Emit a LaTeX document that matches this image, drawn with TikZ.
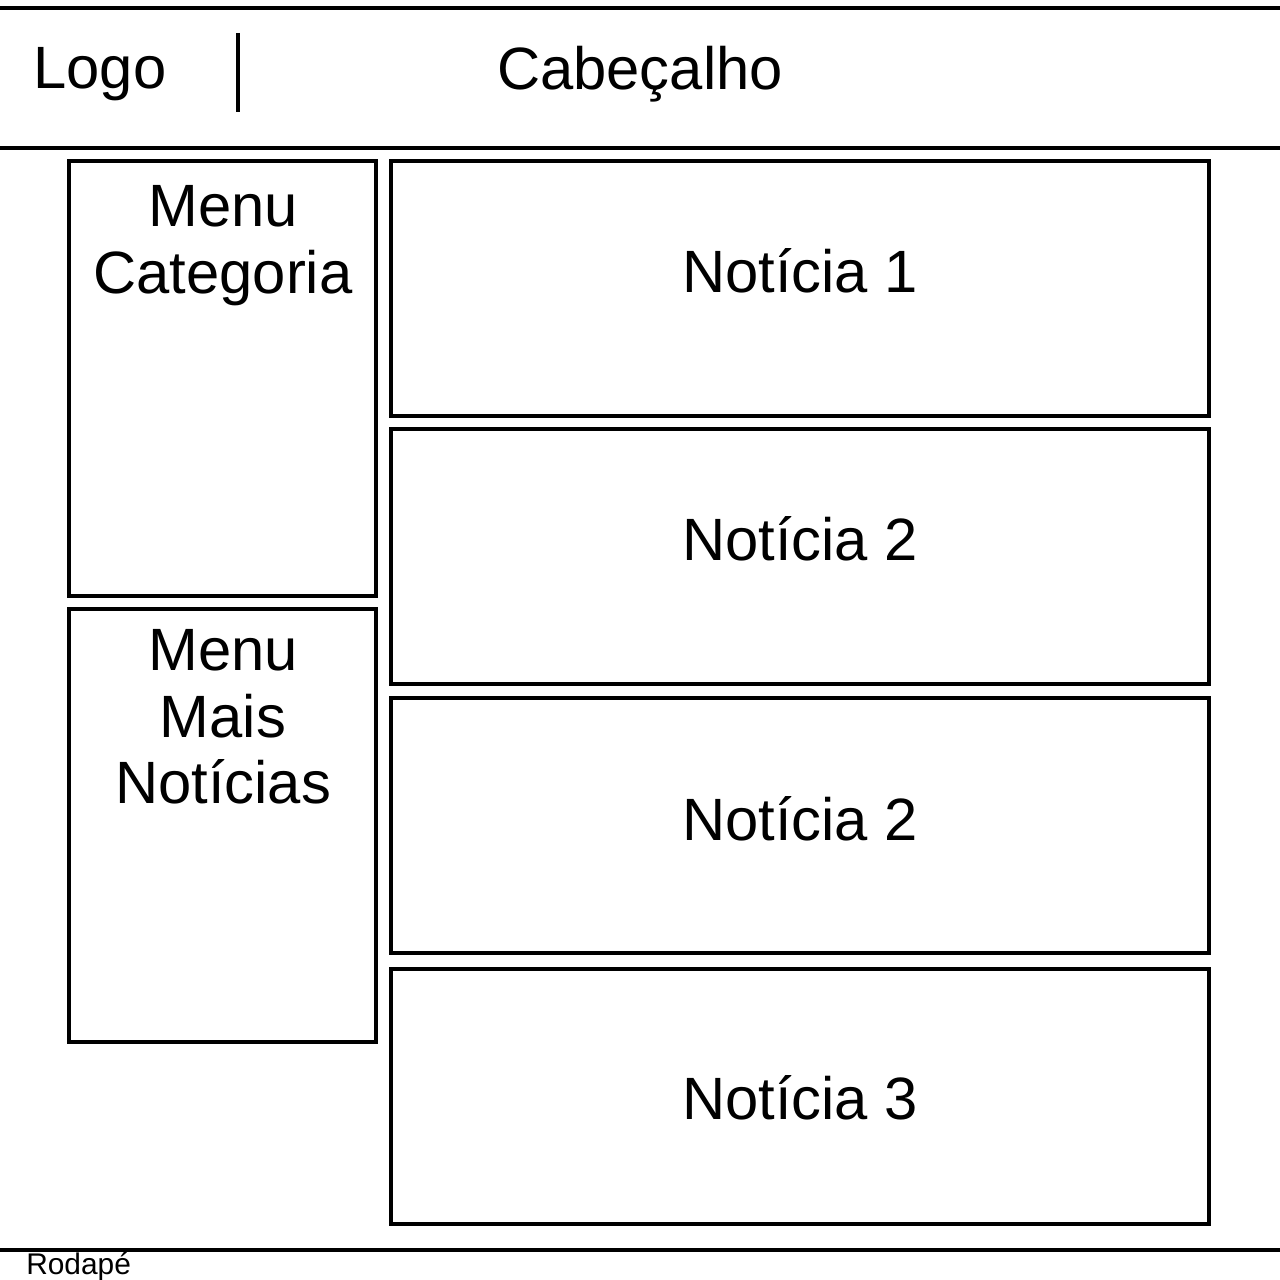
\documentclass[tikz,border=0pt]{standalone}
\usepackage{fontspec}
\setmainfont{Liberation Sans}
\usepackage{tikz}
\usetikzlibrary{positioning}

\tikzset{
  caixa/.style={draw=black, line width=2.6pt},
  rotulo/.style={font=\fontsize{34}{38}\selectfont, anchor=base},
}

\begin{document}
\begin{tikzpicture}[x=0.02cm, y=-0.02cm, line width=2.6pt,
                    every node/.style={inner sep=0pt}]
  \useasboundingbox (0,0) rectangle (1280,1280);
  % cabecalho
  \draw (0,8) -- (1280,8);
  \draw (0,148) -- (1280,148);
  \draw (238,33) -- (238,112);
  \node[rotulo] (logo) at (100,89) {Logo};
  \node[rotulo] (cabecalho) at (640,90) {Cabeçalho};
  % menus da esquerda
  \draw[caixa] (69,161) rectangle (376,596);
  \draw[caixa] (69,609) rectangle (376,1042);
  \node[rotulo, anchor=north, align=center] (menucat) at (223,183)
       {Menu\\Categoria};
  \node[rotulo, anchor=north, align=center] (menumais) at (223,627)
       {Menu\\Mais\\Notícias};
  % noticias
  \foreach \topo/\base/\txt [count=\i] in {161/293/Notícia 1,
                                            429/560/Notícia 2,
                                            698/840/Notícia 2,
                                            969/1119/Notícia 3}
  {
    \draw[caixa] (391,\topo) rectangle (1209,\topo+255);
    \node[rotulo] (noticia\i) at (800,\base) {\txt};
  }
  % rodape
  \draw (0,1250) -- (1280,1250);
  \node[font=\fontsize{17}{20}\selectfont, anchor=base west] (rodape)
       at (24,1274) {Rodapé};
\end{tikzpicture}
\end{document}
